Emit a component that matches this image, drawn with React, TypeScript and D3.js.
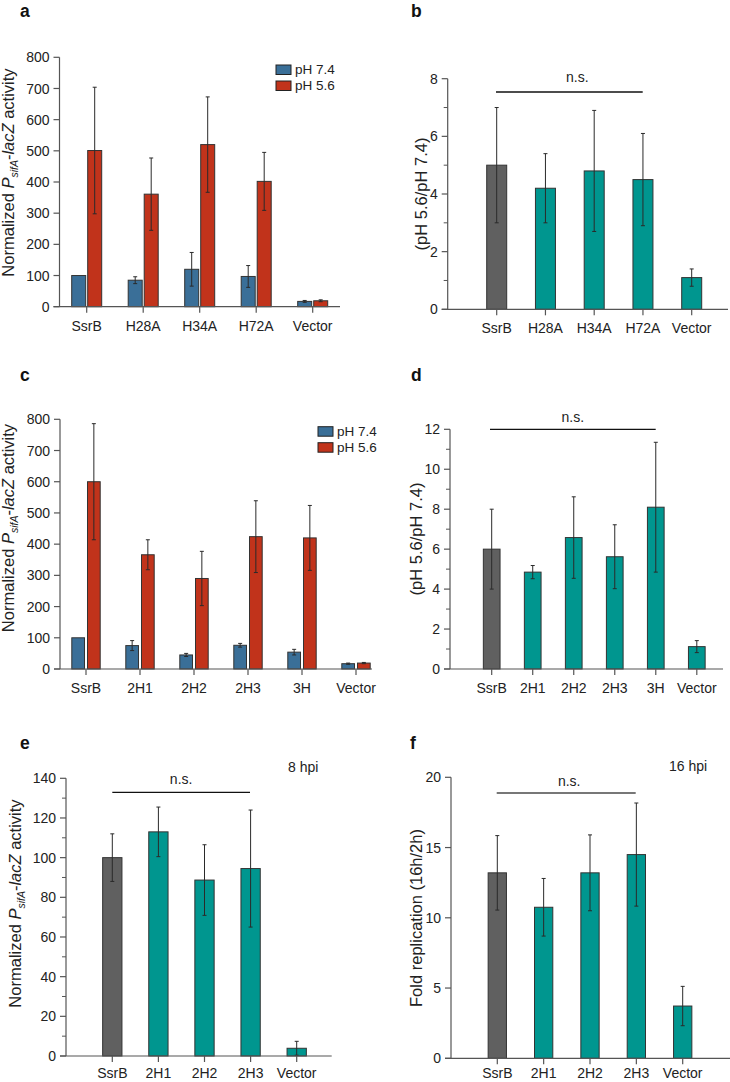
import React from 'react';
import * as d3 from 'd3';

const FONT = "'Liberation Sans', Arial, Helvetica, sans-serif";
const BLUE = '#3a6f98';
const RED = '#c1331b';
const TEAL = '#00968f';
const GRAY = '#606060';
const INK = '#222';
const AXIS = '#555';

// ---------- data ----------
const catsA = ['SsrB', 'H28A', 'H34A', 'H72A', 'Vector'];
const aPH74 = [100, 85, 120, 97, 17];
const aPH74Err = [0, 11, 54, 35, 3];
const aPH56 = [501, 361, 520, 402, 19];
const aPH56Err = [203, 116, 153, 93, 3];

const bRatio = [5.0, 4.2, 4.8, 4.5, 1.1];
const bRatioErr = [2.0, 1.2, 2.1, 1.6, 0.3];

const catsC = ['SsrB', '2H1', '2H2', '2H3', '3H', 'Vector'];
const cPH74 = [100, 75, 45, 76, 54, 17];
const cPH74Err = [0, 16, 5, 6, 9, 2];
const cPH56 = [600, 366, 290, 424, 420, 19];
const cPH56Err = [186, 48, 87, 115, 104, 2];

const dRatio = [6.0, 4.85, 6.58, 5.62, 8.1, 1.12];
const dRatioErr = [2.0, 0.33, 2.04, 1.6, 3.25, 0.3];

const catsE = ['SsrB', '2H1', '2H2', '2H3', 'Vector'];
const eActivity = [100, 113, 88.7, 94.5, 3.9];
const eActivityErr = [12, 12.5, 17.8, 29.5, 3.5];

const fFold = [13.2, 10.75, 13.2, 14.5, 3.72];
const fFoldErr = [2.65, 2.05, 2.7, 3.67, 1.4];

const legendLabels = ['pH 7.4', 'pH 5.6'];

// ---------- components ----------
type Series = { values: number[]; errs: number[]; fill: (i: number) => string };

function YLabelActivity({ x, cy }: { x: number; cy: number }) {
  return (
    <text transform={`translate(${x},${cy}) rotate(-90)`} textAnchor="middle" fontFamily={FONT} fontSize={16.5} fill={INK}>
      Normalized <tspan fontStyle="italic">P</tspan>
      <tspan fontStyle="italic" fontSize={10.5} dy={4}>sifA</tspan>
      <tspan dy={-4}>-</tspan>
      <tspan fontStyle="italic">lacZ</tspan> activity
    </text>
  );
}

function Panel(p: any) {
  const y = d3.scaleLinear().domain([0, p.yMax]).range([p.y0, p.yTop]);
  const x = d3.scalePoint<string>().domain(p.cats).range([p.xFirst, p.xLast]);
  const majors = d3.range(0, p.yMax + 1e-9, p.major);
  const minors = p.minor ? d3.range(p.minor, p.yMax, p.major) : [];
  const series: Series[] = p.series;
  const n = series.length;
  const labOff = p.labOff || 24;
  const barX = (c: string, s: number) => {
    const cx = x(c) as number;
    if (n === 1) return cx - p.barW / 2;
    return s === 0 ? cx - p.gap / 2 - p.barW : cx + p.gap / 2;
  };
  return (
    <g>
      {/* bars */}
      {series.map((s, si) =>
        p.cats.map((c: string, i: number) => (
          <rect key={`b${si}-${i}`} x={barX(c, si)} y={y(s.values[i])} width={p.barW}
            height={p.y0 - y(s.values[i])} fill={s.fill(i)} stroke="#333" strokeWidth={1} />
        ))
      )}
      {/* error bars */}
      {series.map((s, si) =>
        p.cats.map((c: string, i: number) => {
          if (!s.errs[i]) return null;
          const cx = barX(c, si) + p.barW / 2;
          const y1 = y(s.values[i] + s.errs[i]);
          const y2 = y(Math.max(0, s.values[i] - s.errs[i]));
          return (
            <g key={`e${si}-${i}`} stroke="#2a2a2a" strokeWidth={1}>
              <line x1={cx} x2={cx} y1={y1} y2={y2} />
              <line x1={cx - 2} x2={cx + 2} y1={y1} y2={y1} />
              <line x1={cx - 2} x2={cx + 2} y1={y2} y2={y2} />
            </g>
          );
        })
      )}
      {/* y axis */}
      <line x1={p.axisX} x2={p.axisX} y1={p.y0} y2={p.yTop} stroke={AXIS} strokeWidth={1.2} />
      {majors.map((v: number) => (
        <g key={`m${v}`}>
          <line x1={p.axisX - 6} x2={p.axisX} y1={y(v)} y2={y(v)} stroke={AXIS} strokeWidth={1.2} />
          <text x={p.axisX - 10} y={y(v)} dy="0.36em" textAnchor="end" fontFamily={FONT} fontSize={p.tickFont || 14} fill={INK}>{v}</text>
        </g>
      ))}
      {minors.map((v: number) => (
        <line key={`n${v}`} x1={p.axisX - 4} x2={p.axisX} y1={y(v)} y2={y(v)} stroke={AXIS} strokeWidth={1} />
      ))}
      {/* x axis */}
      <line x1={p.axisX - 6} x2={p.xEnd} y1={p.y0} y2={p.y0} stroke={AXIS} strokeWidth={1.2} />
      {p.cats.map((c: string) => (
        <g key={`x${c}`}>
          <line x1={x(c)} x2={x(c)} y1={p.y0} y2={p.y0 + 6} stroke={AXIS} strokeWidth={1.2} />
          <text x={x(c)} y={p.y0 + labOff} textAnchor="middle" fontFamily={FONT} fontSize={14} fill={INK}>{c}</text>
        </g>
      ))}
      {/* n.s. */}
      {p.ns && (
        <g>
          <line x1={p.ns.x1} x2={p.ns.x2} y1={p.ns.y} y2={p.ns.y} stroke={p.ns.color || '#111'} strokeWidth={p.ns.w || 1.3} />
          <text x={(p.ns.x1 + p.ns.x2) / 2 + (p.ns.dx || 0)} y={p.ns.ty} textAnchor="middle" fontFamily={FONT} fontSize={14} fill={INK}>n.s.</text>
        </g>
      )}
      {/* legend */}
      {p.legend && legendLabels.map((l, i) => (
        <g key={`l${i}`}>
          <rect x={p.legend.x} y={p.legend.y + i * 16} width={15} height={9.5} fill={i === 0 ? BLUE : RED} stroke="#222" strokeWidth={1} />
          <text x={p.legend.x + 19} y={p.legend.y + i * 16 + 9} fontFamily={FONT} fontSize={13.5} fill={INK}>{l}</text>
        </g>
      ))}
      {/* letter */}
      <text x={p.letter.x} y={p.letter.y} fontFamily={FONT} fontWeight="bold" fontSize={17.5} fill="#111">{p.letter.t}</text>
      {p.note && (
        <text x={p.note.x} y={p.note.y} fontFamily={FONT} fontSize={14} fill={INK}>{p.note.t}</text>
      )}
    </g>
  );
}

const firstGray = (i: number) => (i === 0 ? GRAY : TEAL);

export default function App() {
  return (
    <svg width={730} height={1082} style={{ position: 'absolute', left: 0, top: 0, background: '#fff' }}>
      <rect width={730} height={1082} fill="#fff" />
      {/* a */}
      <Panel cats={catsA} yMax={800} major={100} axisX={59.5} y0={306.7} yTop={57.3}
        xFirst={86.7} xLast={312.7} xEnd={340} barW={14} gap={2}
        series={[
          { values: aPH74, errs: aPH74Err, fill: () => BLUE },
          { values: aPH56, errs: aPH56Err, fill: () => RED },
        ]}
        legend={{ x: 276, y: 65 }} letter={{ x: 20, y: 16.5, t: 'a' }} />
      <YLabelActivity x={13.5} cy={172.5} />

      {/* b */}
      <Panel cats={catsA} yMax={8} major={2} minor={1} axisX={447.7} y0={309.3} yTop={78.7}
        xFirst={496.7} xLast={691.7} xEnd={728} barW={20}
        series={[{ values: bRatio, errs: bRatioErr, fill: firstGray }]}
        ns={{ x1: 496, x2: 642.7, y: 92, ty: 82, dx: 8 }}
        letter={{ x: 411, y: 16.5, t: 'b' }} />
      <text transform="translate(426.5,194) rotate(-90)" textAnchor="middle" fontFamily={FONT} fontSize={16.5} fill={INK}>(pH 5.6/pH 7.4)</text>

      {/* c */}
      <Panel cats={catsC} yMax={800} major={100} axisX={60} y0={669} yTop={419.3}
        xFirst={86} xLast={356} xEnd={372} barW={12.7} gap={3}
        series={[
          { values: cPH74, errs: cPH74Err, fill: () => BLUE },
          { values: cPH56, errs: cPH56Err, fill: () => RED },
        ]}
        legend={{ x: 318, y: 426.7 }} letter={{ x: 20, y: 381, t: 'c' }} />
      <YLabelActivity x={13.5} cy={528} />

      {/* d */}
      <Panel cats={catsC} yMax={12} major={2} minor={1} axisX={450} y0={669} yTop={429.3}
        xFirst={491.7} xLast={696.8} xEnd={723} barW={16.7}
        series={[{ values: dRatio, errs: dRatioErr, fill: firstGray }]}
        ns={{ x1: 490, x2: 655.7, y: 429.3, ty: 421.7 }}
        letter={{ x: 411, y: 381, t: 'd' }} />
      <text transform="translate(421.5,539) rotate(-90)" textAnchor="middle" fontFamily={FONT} fontSize={16.5} fill={INK}>(pH 5.6/pH 7.4)</text>

      {/* e */}
      <Panel cats={catsE} yMax={140} major={20} minor={10} axisX={66} y0={1056} yTop={778.3}
        xFirst={112.3} xLast={296.7} xEnd={331.7} barW={19.3} labOff={22}
        series={[{ values: eActivity, errs: eActivityErr, fill: firstGray }]}
        ns={{ x1: 112.3, x2: 250, y: 792.3, ty: 784.3 }}
        note={{ x: 288, y: 771.7, t: '8 hpi' }}
        letter={{ x: 20, y: 749, t: 'e' }} />
      <YLabelActivity x={20.5} cy={903.5} />

      {/* f */}
      <Panel cats={catsE} yMax={20} major={5} axisX={451} y0={1058.3} yTop={777.3}
        xFirst={497.3} xLast={682.7} xEnd={730} barW={18.3} labOff={20}
        series={[{ values: fFold, errs: fFoldErr, fill: firstGray }]}
        ns={{ x1: 496.7, x2: 635.7, y: 793, ty: 785.7, color: '#777', w: 1.8, dx: 3 }}
        note={{ x: 669, y: 771, t: '16 hpi' }}
        letter={{ x: 410, y: 749, t: 'f' }} />
      <text transform="translate(421.7,918) rotate(-90)" textAnchor="middle" fontFamily={FONT} fontSize={16.5} fill={INK}>Fold replication (16h/2h)</text>
    </svg>
  );
}
